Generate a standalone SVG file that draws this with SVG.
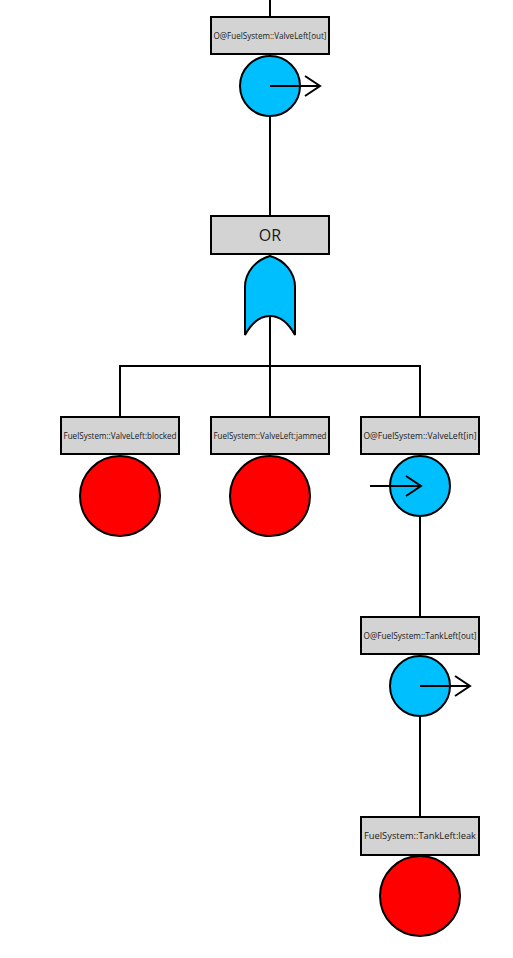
<svg xmlns="http://www.w3.org/2000/svg" width="513" height="958" viewBox="0 0 513 958">
<style>
.box{fill:#d3d3d3;stroke:#000;stroke-width:2}
.lbl{font-family:"Open Sans","Liberation Sans",sans-serif;font-size:8.5px;fill:#1a1a1a;text-anchor:middle}
.big{font-family:"Open Sans","Liberation Sans",sans-serif;font-size:16px;fill:#1a1a1a;text-anchor:middle}
.basic{fill:#ff0000;stroke:#000;stroke-width:2}
.xfer{fill:#00bfff;stroke:#000;stroke-width:2}
.ln{fill:none;stroke:#000;stroke-width:2}
</style>
<rect width="513" height="958" fill="#fff"/>
<g id="connectors" class="ln">
<line x1="270" y1="0" x2="270" y2="17"/>
<line x1="270" y1="116" x2="270" y2="216"/>
<line x1="270" y1="316" x2="270" y2="366"/>
<polyline points="120,416 120,366 420,366 420,416"/>
<line x1="270" y1="366" x2="270" y2="416"/>
<line x1="420" y1="516" x2="420" y2="617"/>
<line x1="420" y1="716" x2="420" y2="817"/>
</g>
<g id="n_valve_out">
<rect class="box" x="211" y="17" width="118" height="37"/>
<text class="lbl" x="270" y="38.5" textLength="113" lengthAdjust="spacingAndGlyphs">O@FuelSystem::ValveLeft[out]</text>
<circle class="xfer" cx="270" cy="86" r="30"/>
<path class="ln" d="M270 86H320M305 76L320 86L305 96"/>
</g>
<g id="n_or">
<rect class="box" x="211" y="216" width="118" height="38"/>
<text class="big" x="270" y="240.5">OR</text>
<path class="xfer" d="M245 335V287C245 272 256 260 270 256C284 260 295 272 295 287V335C289 324 281 316 270 316C259 316 251 324 245 335Z"/>
</g>
<g id="n_blocked">
<rect class="box" x="61" y="417" width="118" height="37"/>
<text class="lbl" x="120" y="438.5" textLength="113" lengthAdjust="spacingAndGlyphs">FuelSystem::ValveLeft:blocked</text>
<circle class="basic" cx="120" cy="496" r="40"/>
</g>
<g id="n_jammed">
<rect class="box" x="211" y="417" width="118" height="37"/>
<text class="lbl" x="270" y="438.5" textLength="113" lengthAdjust="spacingAndGlyphs">FuelSystem::ValveLeft:jammed</text>
<circle class="basic" cx="270" cy="496" r="40"/>
</g>
<g id="n_valve_in">
<rect class="box" x="361" y="417" width="118" height="37"/>
<text class="lbl" x="420" y="438.5" textLength="113" lengthAdjust="spacingAndGlyphs">O@FuelSystem::ValveLeft[in]</text>
<circle class="xfer" cx="420" cy="486" r="30"/>
<path class="ln" d="M370 486H421M406 476L421 486L406 496"/>
</g>
<g id="n_tank_out">
<rect class="box" x="361" y="617" width="118" height="37"/>
<text class="lbl" x="420" y="638.5" textLength="113" lengthAdjust="spacingAndGlyphs">O@FuelSystem::TankLeft[out]</text>
<circle class="xfer" cx="420" cy="686" r="30"/>
<path class="ln" d="M420 686H470M455 676L470 686L455 696"/>
</g>
<g id="n_leak">
<rect class="box" x="361" y="817" width="118" height="38"/>
<text class="lbl" x="420" y="839" textLength="112" lengthAdjust="spacingAndGlyphs">FuelSystem::TankLeft:leak</text>
<circle class="basic" cx="420" cy="896" r="40"/>
</g>
</svg>
